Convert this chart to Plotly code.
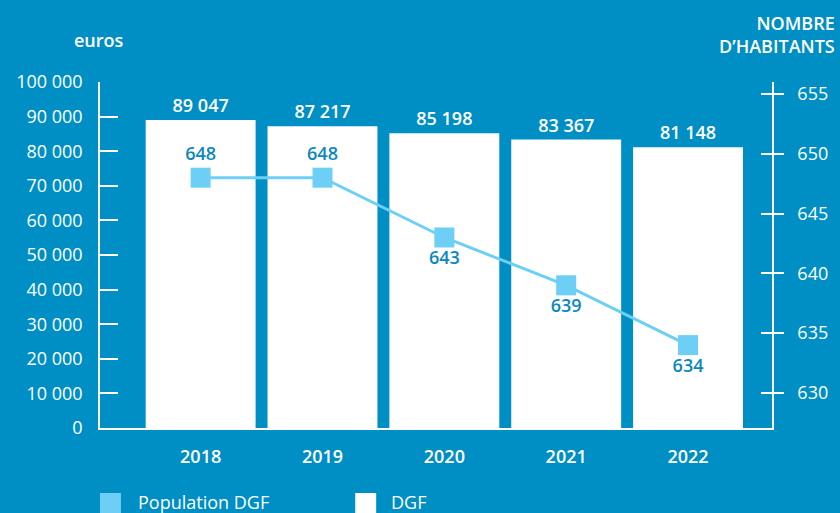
import plotly.graph_objects as go

years = ["2018", "2019", "2020", "2021", "2022"]
dgf = [89047, 87217, 85198, 83367, 81148]
population = [648, 648, 643, 639, 634]
pop_text_pos = ["top center", "top center", "bottom center", "bottom center", "bottom center"]
left_ticks = list(range(0, 100001, 10000))
right_ticks = [630, 635, 640, 645, 650, 655]

BG = "#008FC5"
LIGHT = "#6DCFF6"
DARK_LABEL = "#0A88BF"
FONT = "Open Sans"

fig = go.Figure()

fig.add_trace(go.Bar(
    x=years, y=dgf, name="DGF",
    marker=dict(color="white", line=dict(width=0)),
    texttemplate="%{y:,}", textposition="outside",
    textfont=dict(color="white", size=18, family=FONT, weight=600),
    cliponaxis=False, showlegend=False,
))

fig.add_trace(go.Scatter(
    x=years, y=population, name="Population DGF", yaxis="y2",
    mode="lines+markers+text",
    line=dict(color=LIGHT, width=3),
    marker=dict(symbol="square", size=20, color=LIGHT),
    text=[str(v) for v in population], textposition=pop_text_pos,
    textfont=dict(color=DARK_LABEL, size=18, family=FONT, weight=600),
    cliponaxis=False, showlegend=False,
))

# invisible helper trace so the crossing-tick axis is drawn
fig.add_trace(go.Scatter(
    x=years, y=population, yaxis="y3", mode="markers",
    marker=dict(opacity=0), hoverinfo="skip", showlegend=False,
))

# legend (manual)
W, H = 674, 346
def px(x):
    return (x - 100) / W
def py(y):
    return (428 - y) / H

shapes = [
    dict(type="rect", xref="paper", yref="paper", x0=px(100), x1=px(121), y0=py(514), y1=py(493),
         fillcolor=LIGHT, line=dict(width=0)),
    dict(type="rect", xref="paper", yref="paper", x0=px(356), x1=px(377), y0=py(514), y1=py(493),
         fillcolor="white", line=dict(width=0)),
]

annotations = [
    dict(text="euros", xref="paper", yref="paper", x=px(99), y=py(40), xanchor="center", yanchor="middle",
         showarrow=False, font=dict(color="white", size=18, family=FONT, weight=600)),
    dict(text="NOMBRE<br>D’HABITANTS", xref="paper", yref="paper", x=px(839), y=py(34), xanchor="right",
         yanchor="middle", align="right", showarrow=False,
         font=dict(color="white", size=18, family=FONT, weight=600)),
    dict(text="Population DGF", xref="paper", yref="paper", x=px(136), y=py(502), xanchor="left",
         yanchor="middle", showarrow=False, font=dict(color="white", size=18, family=FONT)),
    dict(text="DGF", xref="paper", yref="paper", x=px(390), y=py(502), xanchor="left",
         yanchor="middle", showarrow=False, font=dict(color="white", size=18, family=FONT)),
]

fig.update_layout(
    width=840, height=513,
    margin=dict(l=100, r=66, t=82, b=85),
    paper_bgcolor=BG, plot_bgcolor=BG,
    separators=", ",
    bargap=0.098,
    font=dict(family=FONT, color="white", size=18),
    xaxis=dict(
        type="category", range=[-0.826, 4.689],
        showline=True, linecolor="white", linewidth=1.5,
        ticks="", showgrid=False, zeroline=False,
        tickfont=dict(color="white", size=18, family=FONT, weight=600),
        ticklabelstandoff=12,
    ),
    yaxis=dict(
        range=[0, 100000], tickvals=left_ticks, tickformat=",",
        ticks="inside", ticklen=18, tickwidth=1.5, tickcolor="white",
        showline=True, linecolor="white", linewidth=1.5,
        showgrid=False, zeroline=False,
        tickfont=dict(color="white", size=18, family=FONT),
        ticklabelstandoff=12,
    ),
    yaxis2=dict(
        overlaying="y", side="right", range=[627.07, 656.0], tickvals=right_ticks,
        ticks="outside", ticklen=10, tickwidth=1.5, tickcolor="white",
        showline=True, linecolor="white", linewidth=1.5,
        showgrid=False, zeroline=False,
        tickfont=dict(color="white", size=18, family=FONT),
        ticklabelstandoff=10,
    ),
    yaxis3=dict(
        overlaying="y", side="right", range=[627.07, 656.0], tickvals=right_ticks,
        ticks="inside", ticklen=11, tickwidth=1.5, tickcolor="white",
        showticklabels=False, showline=False, showgrid=False, zeroline=False,
    ),
    shapes=shapes,
    annotations=annotations,
    showlegend=False,
)

fig.write_html("out.html", config={"displayModeBar": False},
               post_script="document.body.style.margin='0';")
